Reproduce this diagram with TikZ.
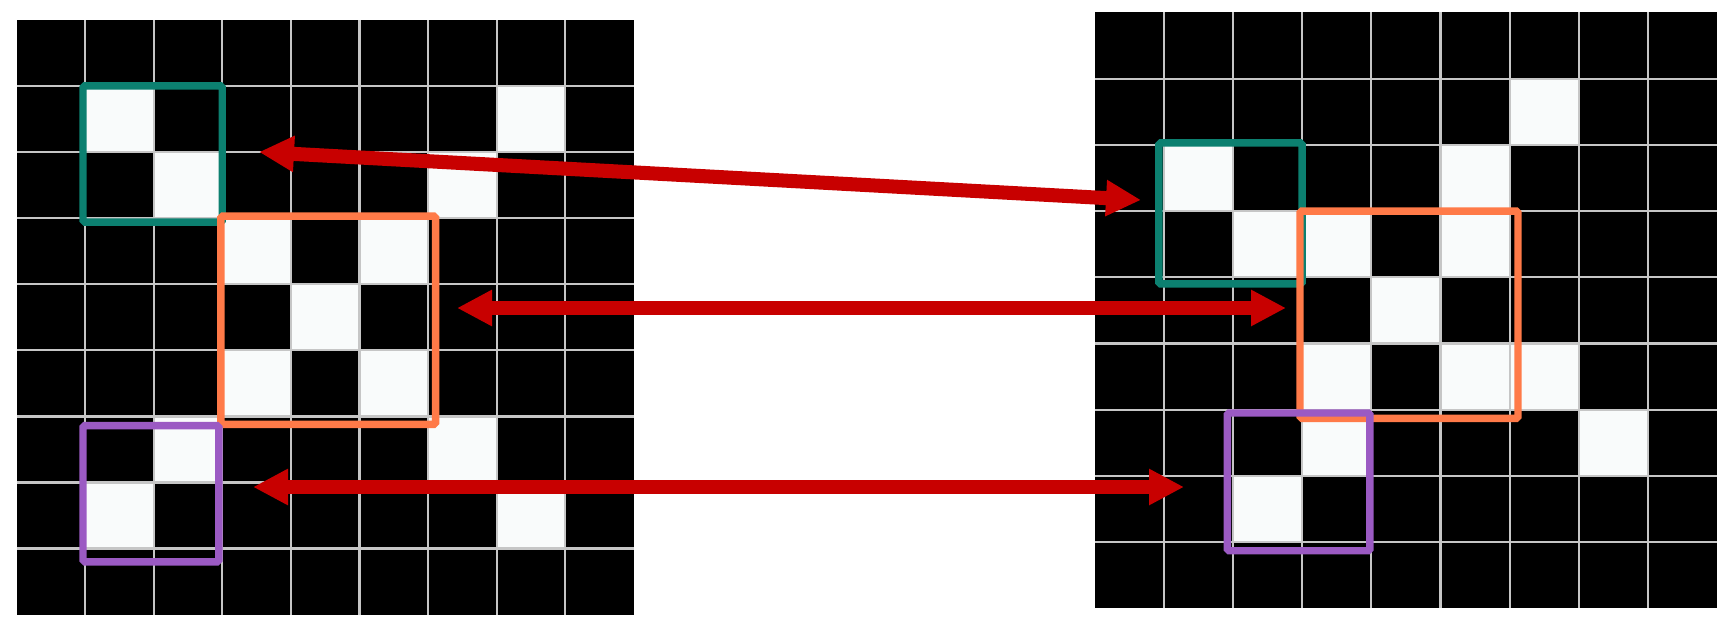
\documentclass[tikz,border=0pt]{standalone}
\usetikzlibrary{arrows.meta}
\definecolor{boxteal}{RGB}{12,128,112}
\definecolor{boxorange}{RGB}{255,122,72}
\definecolor{boxpurple}{RGB}{155,90,195}
\definecolor{linkred}{RGB}{200,0,0}
\definecolor{pixwhite}{RGB}{249,251,251}
\begin{document}
\begin{tikzpicture}[
  cellline/.style={gray!45, line width=1.3pt},
  match/.style={line width=4.2pt, rounded corners=1pt},
  link/.style={linkred, line width=8pt,
    {Triangle[length=0.7cm,width=0.68cm]}-{Triangle[length=0.7cm,width=0.68cm]}}]
\fill[white] (0,0) rectangle (34.56,12.6);
% left image: the plain X
\begin{scope}[shift={(0.33cm,0.306cm)}, x=1.372cm, y=1.322cm]
\fill[black] (0,0) rectangle (9,9);
\foreach \r/\c in {1/1,1/7,2/2,2/6,3/3,3/5,4/4,5/3,5/5,6/2,6/6,7/1,7/7}
  \fill[pixwhite] (\c,8-\r) rectangle ++(1,1);
\foreach \i in {1,...,8} {
  \draw[cellline] (\i,0) -- (\i,9);
  \draw[cellline] (0,\i) -- (9,\i);
}
\draw[match, boxteal] (0.97,5.94) rectangle (3,8);
\draw[match, boxorange] (2.98,2.88) rectangle (6.11,6.03);
\draw[match, boxpurple] (0.97,0.8) rectangle (2.95,2.86);
\end{scope}
% right image: the distorted X
\begin{scope}[shift={(21.89cm,0.434cm)}, x=1.384cm, y=1.324cm]
\fill[black] (0,0) rectangle (9,9);
\foreach \r/\c in {1/6,2/1,2/5,3/2,3/3,3/5,4/4,5/3,5/5,5/6,6/3,6/7,7/2}
  \fill[pixwhite] (\c,8-\r) rectangle ++(1,1);
\foreach \i in {1,...,8} {
  \draw[cellline] (\i,0) -- (\i,9);
  \draw[cellline] (0,\i) -- (9,\i);
}
\draw[match, boxteal] (0.93,4.9) rectangle (3,7.03);
\draw[match, boxorange] (2.97,2.87) rectangle (6.12,6.0);
\draw[match, boxpurple] (1.92,0.87) rectangle (3.98,2.95);
\end{scope}
% matching pieces
\coordinate (tealL) at (5.18,9.56);
\coordinate (tealR) at (22.82,8.60);
\coordinate (orangeL) at (9.14,6.44);
\coordinate (orangeR) at (25.72,6.44);
\coordinate (purpleL) at (5.06,2.86);
\coordinate (purpleR) at (23.68,2.86);
\draw[link] (tealL) -- (tealR);
\draw[link] (orangeL) -- (orangeR);
\draw[link] (purpleL) -- (purpleR);
\end{tikzpicture}
\end{document}
